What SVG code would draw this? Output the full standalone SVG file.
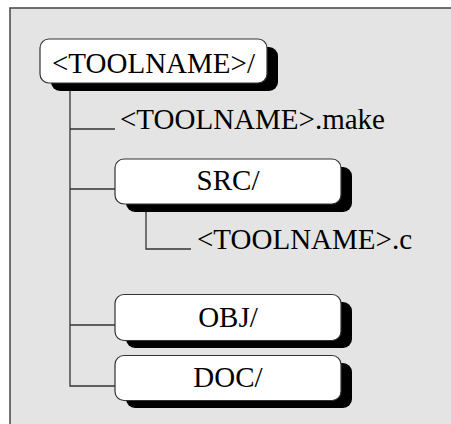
<svg xmlns="http://www.w3.org/2000/svg" width="451" height="424" viewBox="0 0 451 424">
<style>
.t{font-family:"Times New Roman",Tinos,"Liberation Serif","Noto Serif","DejaVu Serif",serif;font-size:29px;fill:#000}
.c{text-anchor:middle}
.box{fill:#fff;stroke:#333;stroke-width:1.2}
.sh{fill:#000}
.ln{fill:none;stroke:#333;stroke-width:1.3}
</style>
<rect x="0" y="0" width="451" height="424" fill="#fff"/>
<rect x="10" y="8" width="460" height="440" fill="#e4e4e4"/>
<path d="M10,440 V8 H470" fill="none" stroke="#444" stroke-width="1.5"/>
<g id="connectors">
<polyline class="ln" points="70,83 70,386 115,386"/>
<line class="ln" x1="70" y1="129" x2="115" y2="129"/>
<line class="ln" x1="70" y1="189" x2="115" y2="189"/>
<line class="ln" x1="70" y1="325" x2="115" y2="325"/>
<polyline class="ln" points="146,204 146,249 191,249"/>
</g>
<g id="root">
<rect class="sh" x="51" y="47" width="227" height="44" rx="9"/>
<rect class="box" x="40" y="39" width="227" height="44" rx="9"/>
<text class="t c" x="153.5" y="73">&lt;TOOLNAME&gt;/</text>
</g>
<g id="make">
<text class="t" x="120" y="129">&lt;TOOLNAME&gt;.make</text>
</g>
<g id="src">
<rect class="sh" x="126" y="167" width="226" height="45" rx="9"/>
<rect class="box" x="115" y="159" width="226" height="45" rx="9"/>
<text class="t c" x="228" y="190">SRC/</text>
</g>
<g id="srcc">
<text class="t" x="197" y="249">&lt;TOOLNAME&gt;.c</text>
</g>
<g id="obj">
<rect class="sh" x="126" y="302" width="226" height="46" rx="9"/>
<rect class="box" x="115" y="294.5" width="226" height="46" rx="9"/>
<text class="t c" x="228" y="326.5">OBJ/</text>
</g>
<g id="doc">
<rect class="sh" x="126" y="363" width="226" height="45" rx="9"/>
<rect class="box" x="115" y="355.5" width="226" height="45" rx="9"/>
<text class="t c" x="228" y="387">DOC/</text>
</g>
</svg>
